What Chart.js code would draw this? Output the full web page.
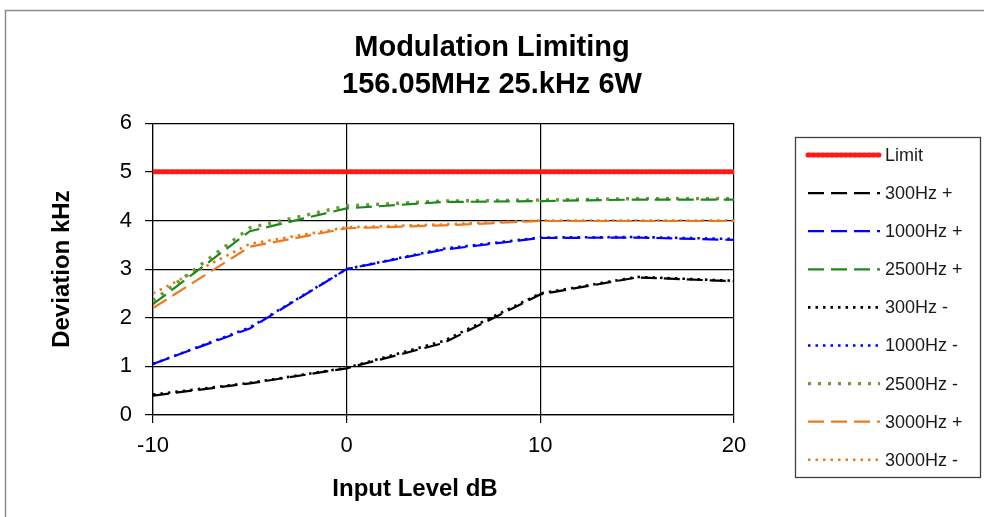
<!DOCTYPE html>
<html>
<head>
<meta charset="utf-8">
<title>Modulation Limiting</title>
<script src="https://cdn.jsdelivr.net/npm/chart.js@4.4.0/dist/chart.umd.min.js"></script>
<style>
    html, body { margin: 0; padding: 0; background: #fff; }
    #wrap { width: 984px; height: 517px; }
</style>
</head>
<body>
<div id="wrap"><canvas id="myChart" width="984" height="517"></canvas></div>
<script>
// input level (dB) and measured deviation (kHz)
const inputLevels = [-10, -5, 0, 5, 10, 15, 20];
const limitKHz = [5, 5, 5, 5, 5, 5, 5];
const hz300Plus = [0.40, 0.65, 0.96, 1.48, 2.48, 2.83, 2.75];
const hz1000Plus = [1.05, 1.78, 3.00, 3.40, 3.64, 3.65, 3.60];
const hz2500Plus = [2.28, 3.78, 4.25, 4.38, 4.40, 4.43, 4.43];
const hz300Minus = [0.42, 0.66, 0.97, 1.52, 2.50, 2.84, 2.76];
const hz1000Minus = [1.05, 1.80, 3.00, 3.42, 3.65, 3.66, 3.62];
const hz2500Minus = [2.35, 3.85, 4.30, 4.40, 4.42, 4.45, 4.45];
const hz3000Plus = [2.20, 3.46, 3.84, 3.90, 3.99, 3.99, 3.99];
const hz3000Minus = [2.50, 3.52, 3.86, 3.92, 4.00, 4.00, 4.00];
const yTicks = [0, 1, 2, 3, 4, 5, 6];
const xTicks = [-10, 0, 10, 20];
const xTitle = "Input Level dB";

const FONT = "'Liberation Sans', Arial, sans-serif";

function points(values) {
    return inputLevels.map((x, i) => ({ x: x, y: values[i] }));
}

function series(label, values, color, width, dash, cap) {
    return {
        label: label,
        data: points(values),
        borderColor: color,
        backgroundColor: color,
        borderWidth: width,
        borderDash: dash,
        borderCapStyle: cap || "butt",
        pointRadius: 0,
        tension: 0,
        fill: false,
        yAxisID: "y",
    };
}

const datasets = [
    series("Limit", limitKHz, "#ff1a1a", 5, [2, 2.6], "round"),
    series("300Hz +", hz300Plus, "#000000", 2.2, [16, 7]),
    series("1000Hz +", hz1000Plus, "#0000ff", 2.2, [16, 7]),
    series("2500Hz +", hz2500Plus, "#1b8a1b", 2.2, [16, 7]),
    series("300Hz -", hz300Minus, "#000000", 2.6, [2.5, 5]),
    series("1000Hz -", hz1000Minus, "#0000ff", 2.6, [2.5, 5]),
    series("2500Hz -", hz2500Minus, "#77933c", 3.4, [3, 7]),
    series("3000Hz +", hz3000Plus, "#ec7a1c", 2.2, [16, 7]),
    series("3000Hz -", hz3000Minus, "#ec7a1c", 2.6, [2.5, 5]),
];

// grey frame round the whole picture
const frame = {
    id: "frame",
    beforeDraw(chart) {
        const ctx = chart.ctx;
        ctx.save();
        ctx.strokeStyle = "#8c8c8c";
        ctx.lineWidth = 1.5;
        ctx.strokeRect(5.5, 10.5, 1000, 600);
        ctx.restore();
    },
};

// x axis title sits left of the plot centre in the original
const axisTitle = {
    id: "axisTitle",
    afterDraw(chart) {
        const ctx = chart.ctx;
        ctx.save();
        ctx.font = "bold 24px " + FONT;
        ctx.fillStyle = "#000";
        ctx.textAlign = "center";
        ctx.textBaseline = "middle";
        ctx.fillText(xTitle, chart.chartArea.left + 262, 489);
        ctx.restore();
    },
};

// boxed legend with line samples, like the spreadsheet one
const boxLegend = {
    id: "boxLegend",
    afterDraw(chart) {
        const ctx = chart.ctx;
        ctx.save();
        ctx.strokeStyle = "#404040";
        ctx.lineWidth = 1.3;
        ctx.setLineDash([]);
        ctx.strokeRect(795.5, 137.5, 185, 340);
        ctx.font = "18px " + FONT;
        ctx.textBaseline = "middle";
        ctx.fillStyle = "#1a1a1a";
        chart.data.datasets.forEach((ds, i) => {
            const y = 155 + i * 38.1;
            ctx.save();
            ctx.strokeStyle = ds.borderColor;
            ctx.lineWidth = ds.borderWidth;
            ctx.lineCap = ds.borderCapStyle;
            ctx.setLineDash(ds.borderDash);
            ctx.beginPath();
            ctx.moveTo(808, y);
            ctx.lineTo(880, y);
            ctx.stroke();
            ctx.restore();
            ctx.fillText(ds.label, 885, y + 1);
        });
        ctx.restore();
    },
};

const config = {
    type: "line",
    data: { datasets: datasets },
    options: {
        responsive: false,
        animation: false,
        layout: { padding: 0 },
        plugins: {
            legend: { display: false },
            tooltip: { enabled: false },
            title: {
                display: true,
                text: ["Modulation Limiting", "156.05MHz 25.kHz 6W"],
                color: "#000",
                font: { family: FONT, size: 29, weight: "bold", lineHeight: 1.28 },
                padding: { top: 29.5, bottom: 19.5 },
            },
        },
        scales: {
            x: {
                type: "linear",
                min: -10,
                max: 20,
                afterBuildTicks: (scale) => {
                    scale.ticks = xTicks.map((v) => ({ value: v }));
                },
                afterFit: (scale) => {
                    scale.height = 102;
                },
                grid: { color: "#000", lineWidth: 1.2, tickLength: 8, tickColor: "#000" },
                border: { color: "#000", width: 1.2 },
                ticks: { color: "#000", padding: 10, font: { family: FONT, size: 22 } },
            },
            y: {
                type: "linear",
                position: "left",
                min: 0,
                max: 6,
                afterBuildTicks: (scale) => {
                    scale.ticks = yTicks.map((v) => ({ value: v }));
                },
                afterFit: (scale) => {
                    scale.width = 153;
                },
                grid: { color: "#000", lineWidth: 1.2, tickLength: 8, tickColor: "#000" },
                border: { color: "#000", width: 1.2 },
                ticks: { color: "#000", padding: 13, font: { family: FONT, size: 22 } },
                title: {
                    display: true,
                    text: "Deviation kHz",
                    color: "#000",
                    font: { family: FONT, size: 24, weight: "bold" },
                    padding: { top: 47.6, bottom: 0 },
                },
            },
            // empty axis on the right, only keeps room for the legend box
            yPad: {
                axis: "y",
                position: "right",
                display: true,
                grid: { display: false, drawTicks: false },
                border: { display: false },
                ticks: { display: false },
                afterFit: (scale) => {
                    scale.width = 250;
                },
            },
        },
    },
    plugins: [frame, axisTitle, boxLegend],
};

const ctx = document.getElementById("myChart").getContext("2d");
const myChart = new Chart(ctx, config);
</script>
</body>
</html>
